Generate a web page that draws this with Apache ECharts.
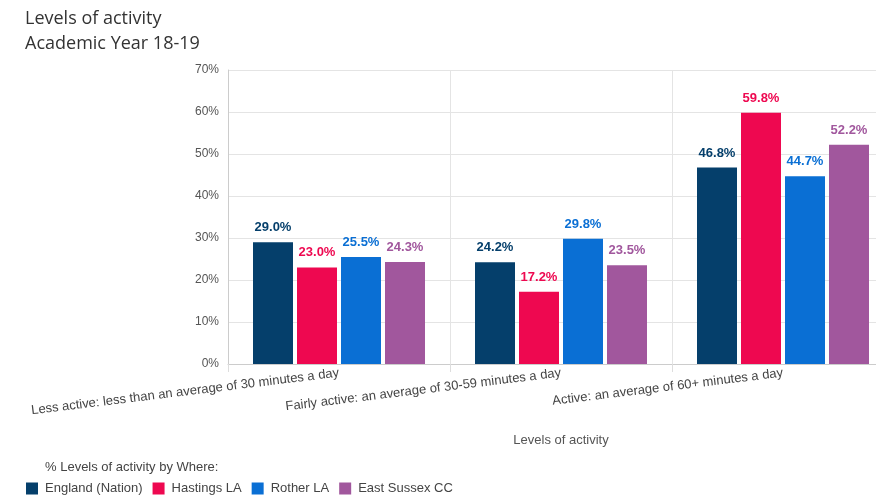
<!DOCTYPE html>
<html>
<head>
<meta charset="utf-8">
<script src="https://cdn.jsdelivr.net/npm/echarts@6/dist/echarts.min.js"></script>
<style>
  html, body { margin: 0; padding: 0; background: #fff; overflow: hidden; }
  /* plot runs past the right edge in the original, so the canvas is wider than the window */
  #chart { width: 894px; height: 495px; }
</style>
</head>
<body>
<div id="chart"></div>
<script>
const categories = [
  'Less active: less than an average of 30 minutes a day',
  'Fairly active: an average of 30-59 minutes a day',
  'Active: an average of 60+ minutes a day'
]
const seriesNames = ['England (Nation)', 'Hastings LA', 'Rother LA', 'East Sussex CC']
const seriesColors = ['#053f6b', '#ee0850', '#0a6fd4', '#a1579d']
const england = [29.0, 24.2, 46.8]
const hastings = [23.0, 17.2, 59.8]
const rother = [25.5, 29.8, 44.7]
const eastSussex = [24.3, 23.5, 52.2]
const seriesValues = [england, hastings, rother, eastSussex]

const chart = echarts.init(document.getElementById('chart'))
const axisFont = 'Liberation Sans'

chart.setOption({
  animation: false,
  title: [
    {
      text: 'Levels of activity',
      left: 20,
      top: 5,
      textStyle: { fontFamily: 'Open Sans', fontSize: 18, fontWeight: 'normal', color: '#333' }
    },
    {
      text: 'Academic Year 18-19',
      left: 20,
      top: 30,
      textStyle: { fontFamily: 'Open Sans', fontSize: 18, fontWeight: 'normal', color: '#333' }
    },
    {
      text: '% Levels of activity by Where:',
      left: 40,
      top: 456,
      textStyle: { fontFamily: axisFont, fontSize: 13, fontWeight: 'normal', color: '#444' }
    }
  ],
  legend: {
    left: 21,
    top: 477,
    itemWidth: 12,
    itemHeight: 12,
    itemGap: 10,
    icon: 'rect',
    textStyle: { fontFamily: axisFont, fontSize: 13, color: '#444', padding: [0, 0, 0, 2] },
    data: seriesNames
  },
  grid: { left: 228, top: 70, right: 0, bottom: 131 },
  xAxis: {
    type: 'category',
    data: categories,
    name: 'Levels of activity',
    nameLocation: 'middle',
    nameGap: 70,
    nameTextStyle: { fontFamily: axisFont, fontSize: 13, color: '#555' },
    axisLine: { lineStyle: { color: '#ccc' } },
    axisTick: { show: true, length: 8, lineStyle: { color: '#ddd' } },
    splitLine: { show: true, lineStyle: { color: '#e4e4e4' } },
    axisLabel: {
      rotate: 7,
      interval: 0,
      margin: 9,
      fontFamily: axisFont,
      fontSize: 13,
      color: '#444'
    }
  },
  yAxis: {
    type: 'value',
    min: 0,
    max: 70,
    interval: 10,
    axisLine: { show: true, lineStyle: { color: '#ccc' } },
    axisTick: { show: false },
    splitLine: { lineStyle: { color: '#e4e4e4' } },
    axisLabel: {
      formatter: '{value}%',
      margin: 9,
      fontFamily: axisFont,
      fontSize: 12,
      color: '#555'
    }
  },
  series: seriesNames.map((name, i) => ({
    name: name,
    type: 'bar',
    data: seriesValues[i],
    barWidth: 40,
    barGap: '10%',
    itemStyle: { color: seriesColors[i] },
    label: {
      show: true,
      position: 'top',
      distance: 8,
      formatter: p => p.value.toFixed(1) + '%',
      fontFamily: axisFont,
      fontSize: 13,
      fontWeight: 'bold',
      color: seriesColors[i]
    }
  }))
})
</script>
</body>
</html>
